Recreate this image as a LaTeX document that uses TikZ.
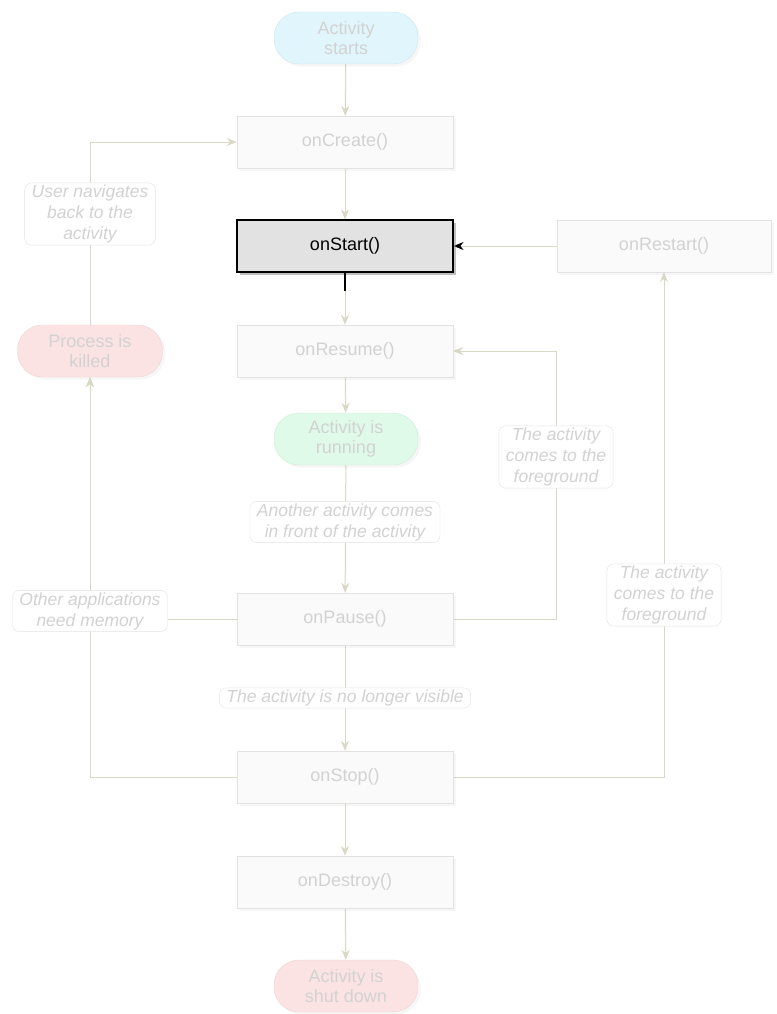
\documentclass[tikz,border=0pt]{standalone}
\usepackage{fontspec}
\setmainfont{Liberation Sans}
\usetikzlibrary{arrows.meta,shadows,backgrounds}
\definecolor{fadetext}{HTML}{D2D2D2}
\definecolor{boxline}{HTML}{E2E2E2}
\definecolor{boxfill}{HTML}{FAFAFA}
\definecolor{flowline}{HTML}{D8D8C4}
\definecolor{hifill}{HTML}{E2E2E2}
\definecolor{startfill}{HTML}{E1F5FC}
\definecolor{startline}{HTML}{CDE6EF}
\definecolor{runfill}{HTML}{E0FAEA}
\definecolor{runline}{HTML}{CCEDD7}
\definecolor{killfill}{HTML}{FCE3E3}
\definecolor{killline}{HTML}{EFD2D2}

\tikzset{
  basebox/.style={minimum width=216pt, minimum height=52pt, font=\fontsize{18}{20.5}\selectfont},
  lcbox/.style={basebox, draw=boxline, fill=boxfill, text=fadetext, drop shadow={opacity=0.07}},
  hibox/.style={basebox, draw=black, line width=1.2pt, fill=hifill, text=black, drop shadow={opacity=0.5}},
  pill/.style={lcbox, rounded corners=25pt, minimum width=144pt, align=center},
  note/.style={draw=boxline, fill=white, rounded corners=7pt, text=fadetext, font=\itshape\fontsize{17.5}{21}\selectfont, align=center, inner xsep=7pt, inner ysep=2pt},
  flow/.style={draw=flowline, line width=1pt, -{Stealth[length=10pt,width=8pt]}},
}

\begin{document}
\begin{tikzpicture}[x=1pt,y=-1pt]
	\useasboundingbox (0,0) rectangle (776,1014);
	% lifecycle column
	\node[pill, fill=startfill, draw=startline] (starts) at (346,38) {Activity\\starts};
	\node[lcbox] (create) at (345,142) {onCreate()};
	\node[hibox] (start) at (345,246) {onStart()};
	\node[lcbox, minimum width=214pt] (restart) at (664,246) {onRestart()};
	\node[lcbox] (resume) at (345,351) {onResume()};
	\node[pill, fill=runfill, draw=runline] (running) at (346,439) {Activity is\\running};
	\node[lcbox] (pause) at (345,619) {onPause()};
	\node[lcbox] (stop) at (345,777) {onStop()};
	\node[lcbox] (destroy) at (345,882) {onDestroy()};
	\node[pill, fill=killfill, draw=killline] (shutdown) at (346,986) {Activity is\\shut down};
	\node[pill, fill=killfill, draw=killline, minimum width=145pt] (killed) at (90,351) {Process is\\killed};
	% labels on the connectors
	\node[note] (navigate) at (90,214) {User navigates\\back to the\\activity};
	\node[note] (another) at (345,522) {Another activity comes\\in front of the activity};
	\node[note] (novisible) at (345,698) {The activity is no longer visible};
	\node[note] (memory) at (90,611) {Other applications\\need memory};
	\node[note] (front1) at (556,457) {The activity\\comes to the\\foreground};
	\node[note] (front2) at (664,595) {The activity\\comes to the\\foreground};
	\begin{scope}[on background layer]
		\draw[flow] (starts) -- (create);
		\draw[flow] (create) -- (start);
		\draw[flow] (start) -- (resume);
		\draw[flow] (resume) -- (running);
		\draw[flow] (running) -- (pause);
		\draw[flow] (pause) -- (stop);
		\draw[flow] (stop) -- (destroy);
		\draw[flow] (destroy) -- (shutdown);
		\draw[draw=flowline, line width=1pt, -{Stealth[length=10pt,width=8pt,black]}] (restart) -- (start);
		\draw[flow] (pause.east) -| (front1) |- (resume.east);
		\draw[flow] (stop.east) -| (front2) -- (restart.south);
		\draw[flow] (pause.west) -| (killed.south);
		\draw[flow] (stop.west) -| (killed.south);
		\draw[flow] (killed.north) |- (create.west);
	\end{scope}
	\draw[black, line width=1.2pt] (start.south) -- ++(0,18);
\end{tikzpicture}
\end{document}
